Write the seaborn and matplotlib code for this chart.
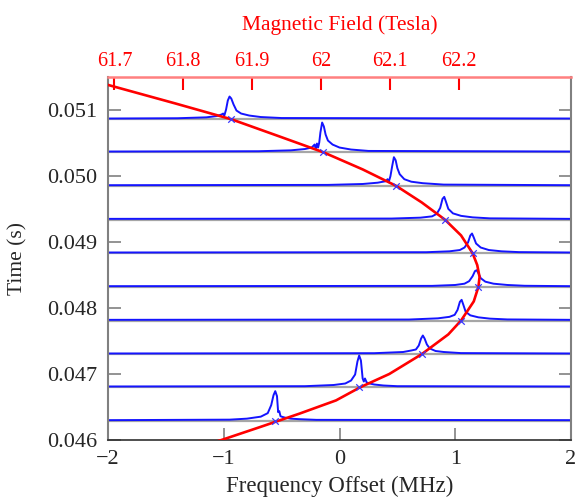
import numpy as np
import pandas as pd
import matplotlib
matplotlib.use("Agg")
import matplotlib.pyplot as plt
import seaborn as sns

# ---- data ----
trace_times = [0.04629, 0.04680, 0.04730, 0.04781, 0.04832,
               0.04883, 0.04934, 0.04985, 0.05036, 0.05086]

tr1_f = [-2, -0.95, -0.8, -0.68, -0.62, -0.59, -0.57, -0.555, -0.54, -0.53, -0.52, -0.51, -0.5, -0.47, -0.42, -0.35, -0.2, 2]
tr1_a = [0, 0.5, 1.5, 3.5, 7, 15, 25, 29, 24, 8, 9, 4, 3.5, 2.5, 1.5, 1, 0.3, 0]
tr2_f = [-2, -0.3, -0.05, 0.05, 0.1, 0.135, 0.155, 0.17, 0.185, 0.2, 0.21, 0.22, 0.235, 0.26, 0.3, 0.38, 0.5, 2]
tr2_a = [0, 0.3, 1.5, 3, 6, 12, 25, 31, 26, 8, 5, 8, 4, 3, 2, 1, 0.3, 0]
tr3_f = [-2, 0.3, 0.55, 0.62, 0.66, 0.685, 0.705, 0.72, 0.735, 0.755, 0.78, 0.83, 0.9, 1.05, 2]
tr3_a = [0, 0.3, 1.5, 3, 4, 8, 15, 18, 15, 9, 5, 2.5, 1.5, 0.4, 0]
tr4_f = [-2, 0.6, 0.85, 0.95, 0.995, 1.02, 1.04, 1.055, 1.07, 1.09, 1.13, 1.2, 1.3, 1.45, 2]
tr4_a = [0, 0.3, 1.5, 3, 5, 10, 18, 20, 15, 8, 4.5, 2.5, 1.2, 0.4, 0]
tr5_f = [-2, 0.8, 1.0, 1.08, 1.12, 1.15, 1.17, 1.185, 1.2, 1.22, 1.26, 1.33, 1.45, 1.6, 2]
tr5_a = [0, 0.3, 1.2, 2.5, 5, 10, 15, 16, 13, 8, 4.5, 2.5, 1.2, 0.4, 0]
tr6_f = [-2, 0.75, 0.95, 1.04, 1.08, 1.11, 1.13, 1.145, 1.16, 1.18, 1.22, 1.29, 1.4, 1.55, 2]
tr6_a = [0, 0.3, 1.2, 2.5, 5, 10, 17, 19, 15, 9, 5, 2.5, 1.2, 0.4, 0]
tr7_f = [-2, 0.45, 0.7, 0.8, 0.84, 0.87, 0.89, 0.905, 0.92, 0.94, 0.98, 1.05, 1.15, 1.3, 2]
tr7_a = [0, 0.3, 1.2, 2.5, 5, 11, 20, 22, 17, 10, 5.5, 3, 1.5, 0.5, 0]
tr8_f = [-2, -0.1, 0.2, 0.33, 0.4, 0.415, 0.425, 0.44, 0.455, 0.47, 0.485, 0.5, 0.52, 0.56, 0.62, 0.72, 0.9, 2]
tr8_a = [0, 0.3, 1.2, 2.5, 4, 6, 3, 9, 19, 28, 25, 17, 11, 6, 3.5, 2, 0.6, 0]
tr9_f = [-2, -0.7, -0.42, -0.3, -0.24, -0.215, -0.205, -0.195, -0.185, -0.175, -0.165, -0.15, -0.135, -0.12, -0.1, -0.06, 0.0, 0.1, 0.25, 2]
tr9_a = [0, 0.3, 1.2, 2.5, 4, 7, 2.5, 8, 4, 9, 19, 29, 25, 17, 11, 7, 4, 2, 0.6, 0]
tr10_f = [-2, -1.4, -1.15, -1.06, -1.02, -1.005, -0.995, -0.98, -0.965, -0.95, -0.935, -0.915, -0.89, -0.85, -0.78, -0.68, -0.5, 2]
tr10_a = [0, 0.3, 1.2, 2.5, 4, 5, 3, 9, 18, 22, 20, 14, 8, 5, 3, 1.5, 0.5, 0]

trace_freqs = [tr1_f, tr2_f, tr3_f, tr4_f, tr5_f, tr6_f, tr7_f, tr8_f, tr9_f, tr10_f]
trace_amps = [tr1_a, tr2_a, tr3_a, tr4_a, tr5_a, tr6_a, tr7_a, tr8_a, tr9_a, tr10_a]

cross_f = [-0.56, 0.17, 0.71, 1.05, 1.20, 1.15, 0.91, 0.49, -0.14, -0.935]

curve_t = [0.0459, 0.0460, 0.04620, 0.04640, 0.04660, 0.04680, 0.04700, 0.04730,
           0.04760, 0.04781, 0.04810, 0.04832, 0.04847, 0.04865, 0.04883, 0.04910,
           0.04934, 0.04960, 0.04985, 0.05010, 0.05036, 0.05060, 0.05086, 0.05110,
           0.05138, 0.05160]
curve_f = [-1.21, -1.02, -0.68, -0.345, -0.03, 0.18, 0.43, 0.71,
           0.94, 1.05, 1.16, 1.20, 1.21, 1.19, 1.15, 1.05,
           0.91, 0.71, 0.49, 0.20, -0.14, -0.52, -0.935, -1.42,
           -2.0, -2.5]

x_ticks = [-2, -1, 0, 1, 2]
y_ticks = [0.046, 0.047, 0.048, 0.049, 0.050, 0.051]
field_ticks = [61.7, 61.8, 61.9, 62.0, 62.1, 62.2]
field_labels = ["61.7", "61.8", "61.9", "62", "62.1", "62.2"]

# ---- styling ----
sns.set_style("ticks")
plt.rcParams["font.family"] = ["Liberation Serif", "DejaVu Serif"]
plt.rcParams["axes.unicode_minus"] = True

AMP_SCALE = 1.0 / 66000.0  # display scale of trace amplitude

fig = plt.figure(figsize=(5.76, 5.0), dpi=100)
ax = fig.add_axes([108 / 576, 1 - 440 / 500, (571 - 108) / 576, (440 - 77) / 500])

for t in trace_times:
    ax.axhline(t, color="#a6a6a6", lw=1.6, zorder=1)

for t, fs, am in zip(trace_times, trace_freqs, trace_amps):
    df = pd.DataFrame({"f": fs, "y": t + (np.array(am) + 0.7) * AMP_SCALE})
    sns.lineplot(data=df, x="f", y="y", sort=False, estimator=None,
                 color="#1414ff", lw=1.4, ax=ax, zorder=2)

cdf = pd.DataFrame({"f": curve_f, "t": curve_t})
sns.lineplot(data=cdf, x="f", y="t", sort=False, estimator=None,
             color="#ff0000", lw=1.9, ax=ax, zorder=3)

xdf = pd.DataFrame({"f": cross_f, "t": trace_times})
sns.scatterplot(data=xdf, x="f", y="t", marker="x", color="#3a3aff",
                s=22, linewidth=0.9, ax=ax, zorder=4)

ax.set_xlim(-2, 2)
ax.set_ylim(0.046, 0.0515)
ax.set_xticks(x_ticks)
ax.set_yticks(y_ticks)
ax.set_yticklabels([f"{v:.3f}" for v in y_ticks])
ax.set_xticklabels([f"{v:d}".replace("-", "\u2212") for v in x_ticks])
ax.tick_params(axis="both", direction="in", length=9, width=1.2, color="#808080",
               labelsize=16)
ax.tick_params(axis="y", right=True, labelright=False, pad=8)
ax.tick_params(axis="x", top=False, pad=7)
ax.set_xlabel("Frequency Offset (MHz)", fontsize=16.5, labelpad=5)
ax.set_ylabel("Time (s)", fontsize=15.5, labelpad=14)

for side in ["left", "right"]:
    ax.spines[side].set_color("#808080")
    ax.spines[side].set_linewidth(1.5)
ax.spines["bottom"].set_color("#303030")
ax.spines["bottom"].set_linewidth(1.2)
ax.spines["top"].set_visible(False)

# top axis: magnetic field (linear map of the frequency axis)
B0, dBdf = 62.027, 0.1682
top = ax.twiny()
top.set_xlim(B0 - 2 * dBdf, B0 + 2 * dBdf)
top.set_xticks(field_ticks)
top.set_xticklabels(field_labels)
top.tick_params(axis="x", direction="in", length=9, width=1.5, color="#ff0000",
                labelcolor="#ff0000", labelsize=14.5, pad=4)
for side in ["left", "right", "bottom"]:
    top.spines[side].set_visible(False)
top.spines["top"].set_color("#ff8080")
top.spines["top"].set_linewidth(1.8)
top.set_xlabel("Magnetic Field (Tesla)", color="#ff0000", fontsize=15.5, labelpad=16)

fig.savefig("out.png", dpi=100)
